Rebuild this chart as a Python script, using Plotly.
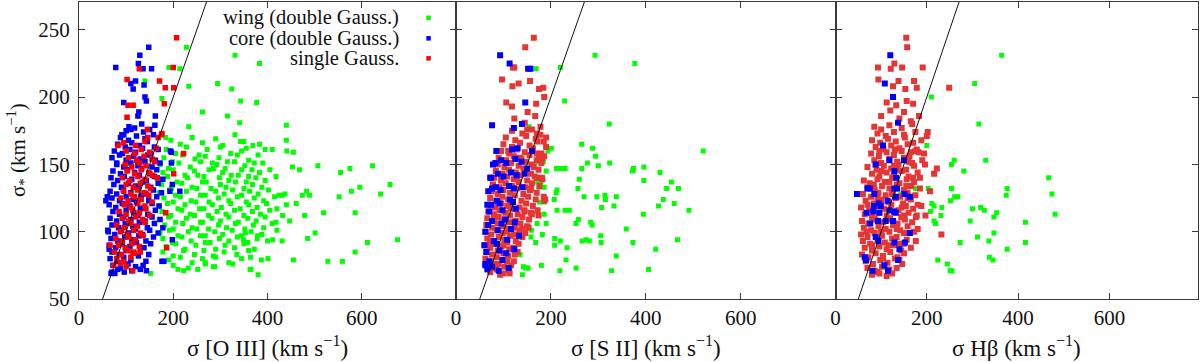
"""Stellar velocity dispersion against gas line widths, three panels."""

import plotly.graph_objects as go

W, H = 1200, 362

# ---------------------------------------------------------------- data
# (sigma_gas, sigma_star) pairs in km/s
OIII_WING = [
    (228, 237), (331, 231), (383, 225), (214, 221), (233, 208), (294, 210), (324, 206), (343, 197), (377, 196), (262, 189),
    (315, 186), (341, 181), (233, 178), (440, 179), (331, 172), (440, 168), (343, 167), (369, 164), (383, 165), (355, 162),
    (410, 161), (441, 160), (455, 159), (453, 148), (468, 146), (507, 149), (555, 144), (575, 147), (623, 149), (660, 135),
    (596, 133), (578, 130), (552, 126), (640, 128), (483, 130), (489, 127), (474, 127), (461, 121), (479, 112), (519, 114),
    (586, 114), (676, 94), (612, 92), (586, 85), (559, 78), (528, 78), (485, 95), (501, 99), (455, 79), (447, 108),
    (437, 128), (431, 127), (431, 93), (411, 94), (401, 80), (387, 79), (380, 68), (365, 72), (364, 81), (379, 97),
    (353, 99), (349, 94), (140, 212), (176, 199), (191, 222), (184, 170), (152, 69), (210, 72), (222, 71), (252, 72),
    (268, 77), (285, 74), (326, 76), (363, 72),
    (195, 168), (215, 165), (240, 170), (262, 166), (290, 169), (305, 164), (350, 167),
    (185, 161), (205, 158), (228, 163), (255, 157), (272, 161), (300, 163), (322, 158), (345, 160), (380, 157), (395, 161),
    (180, 155), (198, 152), (220, 157), (246, 154), (268, 156), (283, 151), (297, 155), (315, 152), (336, 157), (360, 153), (372, 151),
    (172, 150), (190, 147), (212, 151), (236, 148), (258, 152), (276, 146), (292, 150), (310, 147), (330, 152), (352, 149), (367, 146), (390, 151),
    (178, 144), (200, 146), (225, 142), (245, 145), (265, 141), (285, 147), (305, 144), (323, 142), (345, 146), (360, 141), (383, 144), (405, 146),
    (168, 139), (188, 141), (208, 137), (230, 140), (252, 142), (270, 137), (298, 140), (318, 138), (338, 142), (355, 137), (375, 140), (395, 138), (418, 141),
    (175, 135), (196, 132), (218, 136), (240, 133), (262, 137), (280, 132), (300, 135), (312, 133), (332, 137), (350, 132), (368, 135), (388, 133),
    (170, 129), (192, 131), (205, 127), (228, 130), (250, 132), (268, 127), (290, 130), (308, 128), (326, 131), (345, 127), (362, 130), (380, 128), (402, 131), (425, 127),
    (180, 125), (200, 122), (215, 126), (238, 123), (258, 127), (276, 122), (296, 125), (318, 123), (336, 126), (355, 122), (372, 125), (392, 123), (415, 126),
    (168, 119), (188, 121), (210, 117), (225, 120), (248, 122), (265, 117), (283, 120), (302, 118), (322, 121), (342, 117), (360, 120), (378, 118), (398, 121), (420, 117), (440, 120),
    (176, 115), (195, 112), (218, 116), (236, 113), (256, 117), (275, 112), (293, 115), (312, 113), (330, 116), (350, 112), (368, 115), (385, 113), (405, 116), (432, 112),
    (170, 109), (190, 111), (205, 107), (228, 110), (245, 112), (262, 107), (282, 110), (300, 108), (318, 111), (338, 107), (358, 110), (376, 108), (395, 111), (418, 107),
    (182, 105), (200, 102), (220, 106), (240, 103), (258, 107), (275, 102), (296, 105), (313, 103), (332, 106), (352, 102), (370, 105), (392, 103), (410, 106),
    (172, 99), (192, 101), (210, 97), (232, 100), (250, 102), (268, 97), (288, 100), (305, 98), (325, 101), (345, 97), (365, 100), (388, 98), (420, 101),
    (178, 95), (198, 92), (218, 96), (238, 93), (258, 97), (278, 92), (298, 95), (318, 93), (336, 96), (358, 92), (378, 95), (400, 93),
    (185, 89), (205, 91), (225, 87), (248, 90), (268, 92), (290, 87), (310, 90), (330, 88), (350, 91), (372, 87),
    (178, 85), (200, 82), (222, 86), (245, 83), (265, 86), (285, 82), (308, 85), (335, 83), (360, 86),
    (190, 79), (215, 81), (240, 77), (262, 80), (290, 81), (318, 77), (345, 80),
    (200, 75), (232, 73), (268, 76), (288, 74),
]

OIII_CORE = [
    (78, 222), (148, 237), (129, 231), (126, 225), (136, 221), (154, 221), (120, 212), (110, 210), (115, 206), (138, 209),
    (140, 200), (143, 197), (95, 196), (127, 189), (125, 186), (133, 180), (161, 179), (106, 178), (110, 176), (91, 172),
    (95, 172), (80, 151), (57, 123), (60, 126), (61, 101), (64, 87), (68, 69), (76, 69), (143, 71), (198, 94),
    (176, 78), (180, 78), (178, 103), (193, 130), (162, 186), (196, 151), (198, 135), (214, 130), (196, 159), (194, 160),
    (100, 175), (118, 177), (137, 174), (150, 176),
    (88, 170), (105, 168), (122, 171), (140, 169), (158, 172),
    (82, 165), (98, 163), (112, 166), (128, 164), (145, 167), (160, 163),
    (75, 160), (92, 158), (108, 161), (120, 159), (135, 162), (152, 158), (168, 161),
    (70, 155), (86, 157), (100, 153), (116, 156), (130, 154), (146, 157), (162, 153),
    (80, 150), (95, 148), (110, 151), (125, 149), (140, 152), (155, 148), (172, 151),
    (72, 145), (88, 143), (103, 146), (118, 144), (133, 147), (150, 143), (165, 146),
    (68, 140), (82, 138), (96, 141), (112, 139), (128, 142), (143, 138), (160, 141), (178, 139),
    (74, 135), (90, 133), (105, 136), (120, 134), (136, 137), (152, 133), (168, 136),
    (66, 130), (80, 128), (94, 131), (110, 129), (126, 132), (142, 128), (158, 131), (175, 129),
    (70, 125), (86, 123), (100, 126), (115, 124), (132, 127), (148, 123), (165, 126),
    (64, 120), (78, 118), (92, 121), (108, 119), (122, 122), (138, 118), (155, 121), (170, 119),
    (72, 115), (86, 113), (100, 116), (116, 114), (130, 117), (146, 113), (162, 116),
    (66, 110), (80, 108), (95, 111), (110, 109), (125, 112), (140, 108), (155, 111), (172, 109),
    (70, 105), (84, 103), (98, 106), (114, 104), (128, 107), (145, 103), (160, 106),
    (62, 100), (76, 98), (90, 101), (105, 99), (120, 102), (135, 98), (150, 101), (168, 99),
    (68, 95), (82, 93), (97, 96), (112, 94), (127, 97), (142, 93), (158, 96),
    (64, 90), (78, 88), (92, 91), (108, 89), (122, 92), (138, 88), (152, 91),
    (70, 85), (85, 83), (100, 86), (115, 84), (130, 87), (148, 83),
    (66, 80), (80, 78), (95, 81), (110, 79), (126, 82), (142, 78),
    (72, 75), (88, 73), (104, 76), (120, 74), (136, 75),
    (70, 70), (82, 72), (96, 70), (112, 71), (130, 72),
]

OIII_SINGLE = [
    (207, 244), (128, 221), (200, 222), (102, 213), (171, 212), (183, 207), (201, 207), (115, 194), (181, 195), (102, 185),
    (145, 176), (83, 164), (168, 170), (146, 170), (176, 173), (222, 158), (201, 143), (184, 114), (186, 88), (104, 194),
    (115, 85), (130, 85), (175, 172), (164, 162), (166, 140), (66, 90), (114, 71),
    (95, 166), (120, 164), (140, 167),
    (100, 160), (118, 158), (132, 161), (150, 159),
    (105, 155), (122, 153), (138, 156), (155, 154),
    (98, 150), (112, 148), (128, 151), (142, 149), (160, 152),
    (102, 145), (118, 143), (132, 146), (148, 144),
    (92, 140), (108, 138), (125, 141), (140, 139), (156, 142),
    (100, 135), (115, 133), (130, 136), (146, 134),
    (95, 130), (110, 128), (124, 131), (138, 129), (152, 132),
    (88, 125), (104, 123), (118, 126), (132, 124), (148, 127),
    (96, 120), (110, 118), (125, 121), (140, 119), (155, 122),
    (85, 115), (100, 113), (114, 116), (128, 114), (142, 117),
    (92, 110), (106, 108), (120, 111), (135, 109), (150, 112),
    (80, 105), (96, 103), (110, 106), (124, 104), (140, 107),
    (88, 100), (102, 98), (116, 101), (130, 99),
    (78, 95), (92, 93), (106, 96), (120, 94), (136, 97),
    (84, 90), (98, 88), (112, 91), (128, 89),
    (75, 85), (90, 83), (104, 86), (118, 84),
    (80, 80), (95, 78), (110, 81),
    (74, 75), (88, 77), (100, 74),
]

SII_WING = [
    (293, 231), (377, 225), (220, 222), (229, 197), (323, 180), (521, 160), (265, 165), (288, 162), (294, 156), (201, 162),
    (277, 151), (300, 149), (324, 151), (212, 147), (221, 147), (230, 147), (265, 147), (374, 147), (372, 145), (396, 148),
    (430, 144), (396, 138), (454, 137), (444, 132), (469, 132), (260, 139), (257, 132), (213, 131), (211, 129), (270, 126),
    (297, 126), (314, 127), (315, 124), (338, 126), (437, 124), (427, 119), (460, 121), (491, 116), (307, 118), (333, 119),
    (395, 113), (239, 116), (230, 116), (213, 116), (207, 124), (258, 109), (253, 106), (284, 107), (287, 105), (359, 102),
    (190, 106), (182, 98), (208, 95), (208, 90), (220, 93), (234, 88), (266, 93), (274, 94), (281, 93), (305, 97),
    (306, 92), (373, 92), (421, 87), (467, 94), (338, 82), (232, 79), (180, 75), (219, 71), (253, 73), (328, 71),
    (406, 72), (168, 92), (169, 221), (154, 178), (172, 152), (184, 152), (172, 137), (179, 137), (175, 133), (186, 133),
    (176, 122), (186, 122), (173, 114), (186, 113), (171, 106), (159, 101), (158, 96), (135, 83), (142, 74),
    (147, 73), (152, 73), (140, 68), (194, 160), (190, 145),
]

SII_CORE = [
    (93, 231), (113, 225), (157, 221), (152, 221), (146, 196), (76, 179), (139, 180), (122, 177), (130, 162), (83, 151),
    (74, 140), (76, 132), (74, 120), (62, 75), (66, 72), (90, 71), (111, 73), (123, 87), (133, 97), (150, 147), (160, 160),
    (85, 160), (118, 161),
    (95, 153), (125, 154),
    (78, 150), (106, 151), (138, 152),
    (88, 143), (116, 144), (145, 143),
    (72, 140), (100, 141), (128, 142),
    (84, 133), (112, 134), (140, 133),
    (68, 130), (94, 131), (122, 132),
    (86, 123), (114, 124),
    (66, 120), (92, 121), (120, 122),
    (70, 115), (98, 116), (126, 117),
    (76, 108), (104, 109),
    (68, 105), (96, 106), (124, 107),
    (62, 100), (88, 101), (116, 102),
    (80, 93), (108, 94),
    (60, 90), (86, 91),
    (64, 85), (92, 86), (106, 84),
    (70, 78), (98, 79),
    (62, 76), (76, 74),
]

SII_SINGLE = [
    (164, 244), (146, 237), (123, 222), (120, 222), (97, 213), (119, 208), (132, 210), (156, 212), (184, 207), (175, 206),
    (106, 196), (118, 193), (169, 195), (186, 200), (151, 189), (167, 186), (123, 184), (145, 181), (171, 173), (160, 113),
    (174, 112), (153, 103), (186, 123), (181, 140), (182, 155), (170, 158), (188, 124), (113, 69), (93, 68), (178, 178),
    (190, 170), (150, 176),
    (118, 175), (140, 173), (160, 176), (178, 172),
    (105, 170), (125, 168), (148, 171), (168, 169), (185, 167),
    (100, 165), (118, 163), (135, 166), (155, 164), (172, 167), (190, 163),
    (95, 160), (112, 158), (128, 161), (145, 159), (162, 162), (180, 158),
    (90, 155), (106, 153), (122, 156), (138, 154), (155, 157), (170, 153), (186, 156),
    (88, 150), (102, 148), (116, 151), (132, 149), (148, 152), (164, 148), (180, 151),
    (84, 145), (98, 143), (112, 146), (126, 144), (142, 147), (158, 143), (174, 146),
    (80, 140), (95, 138), (108, 141), (122, 139), (136, 142), (150, 138), (166, 141), (182, 139),
    (78, 135), (92, 133), (105, 136), (118, 134), (132, 137), (146, 133), (160, 136), (176, 134),
    (75, 130), (88, 128), (100, 131), (114, 129), (128, 132), (142, 128), (156, 131), (170, 129),
    (72, 125), (85, 123), (98, 126), (110, 124), (124, 127), (138, 123), (152, 126), (168, 124), (185, 126),
    (70, 120), (82, 118), (95, 121), (108, 119), (120, 122), (134, 118), (148, 121), (162, 119),
    (68, 115), (80, 113), (92, 116), (104, 114), (116, 117), (130, 113), (144, 116), (158, 114), (172, 116),
    (66, 110), (78, 108), (90, 111), (102, 109), (114, 112), (126, 108), (140, 111), (154, 109),
    (64, 105), (76, 103), (88, 106), (100, 104), (112, 107), (124, 103), (136, 106), (150, 104),
    (62, 100), (74, 98), (86, 101), (98, 99), (110, 102), (122, 98), (134, 101), (146, 99),
    (66, 95), (78, 93), (90, 96), (102, 94), (114, 97), (126, 93), (140, 96),
    (60, 90), (72, 88), (84, 91), (96, 89), (108, 92), (120, 88), (132, 91),
    (64, 85), (76, 83), (88, 86), (100, 84), (112, 87), (124, 83),
    (62, 80), (74, 78), (86, 81), (98, 79), (110, 82), (122, 78),
    (66, 75), (78, 73), (90, 76), (102, 74), (116, 75),
    (72, 70), (86, 72), (100, 69), (112, 71),
    (110, 160), (135, 155), (160, 150), (95, 142), (128, 140), (158, 132), (88, 122), (116, 120), (145, 115),
    (80, 110), (108, 100), (140, 102), (72, 92), (100, 90), (130, 85), (80, 76), (108, 78), (170, 140), (175, 155),
]

HB_WING = [
    (364, 231), (305, 210), (210, 200), (314, 180), (200, 164), (260, 153), (254, 150), (281, 145), (329, 153), (467, 140),
    (474, 128), (481, 113), (376, 132), (374, 127), (203, 132), (254, 132), (261, 126), (268, 126), (252, 123), (211, 121),
    (216, 119), (233, 118), (208, 115), (300, 117), (318, 118), (326, 116), (353, 114), (347, 111), (295, 108),
    (216, 108), (219, 106), (416, 107), (347, 99), (311, 96), (273, 92), (336, 93), (416, 92), (376, 87), (337, 81),
    (345, 79), (224, 79), (245, 76), (251, 71), (255, 71), (175, 132), (143, 128), (231, 112),
]

HB_CORE = [
    (120, 231), (108, 210), (126, 200), (137, 181), (104, 164), (88, 150), (118, 153), (150, 153), (129, 145), (133, 140),
    (70, 132), (75, 132), (47, 128), (85, 128), (129, 132), (135, 132), (132, 126), (151, 128), (163, 126), (114, 123),
    (95, 121), (84, 119), (99, 119), (68, 114), (83, 115), (96, 114), (118, 116), (128, 115), (132, 114), (93, 108),
    (110, 108), (126, 108), (76, 106), (163, 99), (88, 96), (94, 93), (129, 92), (152, 92), (140, 87), (64, 81),
    (67, 79), (137, 79), (107, 75), (81, 71), (115, 71),
]

HB_SINGLE = [
    (155, 244), (157, 237), (93, 222), (121, 221), (146, 222), (129, 225), (191, 222), (94, 213), (138, 212), (172, 212),
    (126, 208), (153, 206), (178, 207), (112, 196), (133, 194), (156, 197), (170, 195), (150, 189), (183, 186), (202, 174),
    (232, 98), (222, 147), (216, 143), (249, 207), (207, 130), (197, 112), (194, 158), (196, 150), (176, 93), (176, 111),
    (120, 190), (140, 184), (165, 182), (100, 186),
    (85, 178), (100, 176), (118, 179), (145, 177), (168, 180),
    (92, 173), (110, 171), (128, 174), (150, 172), (175, 174), (200, 171),
    (80, 168), (98, 166), (115, 169), (132, 167), (152, 170), (170, 166), (188, 168),
    (88, 163), (105, 161), (122, 164), (140, 162), (158, 165), (178, 161),
    (78, 158), (95, 156), (112, 159), (128, 157), (145, 160), (162, 156), (182, 159),
    (85, 153), (100, 151), (118, 154), (135, 152), (150, 155), (168, 151), (190, 153),
    (70, 148), (90, 146), (106, 149), (122, 147), (138, 150), (155, 146), (172, 149),
    (80, 143), (96, 141), (112, 144), (128, 142), (145, 145), (160, 141), (180, 144),
    (62, 138), (75, 136), (92, 139), (108, 137), (124, 140), (140, 136), (156, 139), (172, 137),
    (70, 133), (86, 131), (102, 134), (118, 132), (134, 135), (150, 131), (166, 134), (185, 132),
    (60, 128), (78, 126), (94, 129), (110, 127), (126, 130), (142, 126), (158, 129), (175, 127),
    (66, 123), (84, 121), (100, 124), (116, 122), (132, 125), (148, 121), (165, 124),
    (56, 118), (74, 116), (90, 119), (106, 117), (122, 120), (138, 116), (154, 119), (170, 117), (188, 119),
    (64, 113), (80, 111), (96, 114), (112, 112), (128, 115), (144, 111), (160, 114), (178, 112),
    (58, 108), (72, 106), (88, 109), (104, 107), (120, 110), (136, 106), (152, 109), (168, 107),
    (62, 103), (78, 101), (94, 104), (110, 102), (126, 105), (142, 101), (158, 104), (180, 102),
    (56, 98), (70, 96), (86, 99), (102, 97), (118, 100), (134, 96), (150, 99),
    (60, 93), (76, 91), (92, 94), (108, 92), (124, 95), (140, 91), (156, 94),
    (64, 88), (80, 86), (96, 89), (112, 87), (128, 90), (144, 86),
    (58, 83), (72, 81), (88, 84), (104, 82), (120, 85), (136, 81), (150, 84),
    (66, 78), (82, 76), (98, 79), (114, 77), (130, 80), (146, 76),
    (70, 73), (86, 71), (102, 74), (118, 72), (134, 73),
    (80, 68), (96, 69), (112, 67),
    (96, 160), (130, 161), (165, 159), (88, 150), (128, 149), (160, 152), (100, 145), (135, 146), (170, 140),
    (84, 135), (118, 137), (155, 134), (92, 125), (124, 128), (158, 125), (70, 120), (100, 121), (145, 118),
    (84, 110), (116, 109), (150, 112), (68, 100), (100, 100), (134, 102), (80, 90), (116, 90), (150, 91),
    (68, 80), (104, 80), (140, 79), (92, 70), (124, 69), (175, 160), (185, 140), (180, 120), (172, 100), (165, 88),
]

ONE_TO_ONE = [0, 800]
X_TICKS = [0, 200, 400, 600]
Y_TICKS = [50, 100, 150, 200, 250]
X_TITLES = [
    "σ [O III] (km s<sup>−1</sup>)",
    "σ [S II] (km s<sup>−1</sup>)",
    "σ Hβ (km s<sup>−1</sup>)",
]
LEGEND_LABELS = ["wing (double Gauss.)", "core (double Gauss.)", "single Gauss."]

# ---------------------------------------------------------------- style
GREEN, BLUE, RED, RED_SOFT = "#00ff00", "#0000ff", "#ff0000", "#e53535"
AXIS_COLOR = "#3a3a3a"
FONT = "Liberation Serif"

# panel boxes in pixels (left, right), shared top/bottom
PANELS_PX = [(79, 456), (456, 835.5), (835.5, 1198)]
X_RANGES = [[0, 800], [0, 800], [0, 794]]
TOP_PX, BOTTOM_PX = 1.5, 299


def fx(px):
    return px / W


def fy(py):
    return 1 - py / H


def split(pairs):
    return [p[0] for p in pairs], [p[1] for p in pairs]


fig = go.Figure()

# draw order per panel: wing first, then core / single as in the original
panel_series = [
    [(OIII_WING, GREEN, 5), (OIII_CORE, BLUE, 5.5), (OIII_SINGLE, RED, 5.5)],
    [(SII_WING, GREEN, 5), (SII_SINGLE, RED_SOFT, 6), (SII_CORE, BLUE, 6)],
    [(HB_WING, GREEN, 5), (HB_SINGLE, RED_SOFT, 6), (HB_CORE, BLUE, 6)],
]

for i, series in enumerate(panel_series):
    suffix = "" if i == 0 else str(i + 1)
    for pairs, color, size in series:
        xs, ys = split(pairs)
        fig.add_trace(go.Scatter(
            x=xs, y=ys, mode="markers",
            marker=dict(symbol="square", size=size, color=color, line=dict(width=0)),
            xaxis="x" + suffix, yaxis="y" + suffix, showlegend=False, hoverinfo="x+y",
        ))
    fig.add_trace(go.Scatter(
        x=ONE_TO_ONE, y=ONE_TO_ONE, mode="lines",
        line=dict(color="#111111", width=1),
        xaxis="x" + suffix, yaxis="y" + suffix, showlegend=False, hoverinfo="skip",
    ))

axis_common = dict(
    ticks="inside", ticklen=6, tickwidth=1, tickcolor=AXIS_COLOR,
    showline=True, linecolor=AXIS_COLOR, linewidth=1, mirror="ticks",
    showgrid=False, zeroline=False, automargin=False,
    tickfont=dict(family=FONT, size=21, color="#111111"),
)

layout_axes = {}
for i, (left, right) in enumerate(PANELS_PX):
    suffix = "" if i == 0 else str(i + 1)
    layout_axes["xaxis" + suffix] = dict(
        axis_common, domain=[fx(left), fx(right)], range=X_RANGES[i],
        tickvals=X_TICKS, anchor="y" + suffix,
    )
    layout_axes["yaxis" + suffix] = dict(
        axis_common, domain=[fy(BOTTOM_PX), fy(TOP_PX)], range=[50, 271],
        tickvals=Y_TICKS, anchor="x" + suffix, showticklabels=(i == 0),
        ticklabelstandoff=4,
    )

annotations = []
for i, (left, right) in enumerate(PANELS_PX):
    annotations.append(dict(
        text=X_TITLES[i], x=fx((left + right) / 2), y=fy(346), xref="paper", yref="paper",
        xanchor="center", yanchor="middle", showarrow=False,
        font=dict(family=FONT, size=23, color="#111111"),
    ))
annotations.append(dict(
    text="σ<sub>*</sub> (km s<sup>−1</sup>)", x=fx(18), y=fy(150), xref="paper", yref="paper",
    xanchor="center", yanchor="middle", textangle=-90, showarrow=False,
    font=dict(family=FONT, size=21, color="#111111"),
))

shapes = []
legend_rows_px = [17.7, 38.3, 58.3]
for label, row, color in zip(LEGEND_LABELS, legend_rows_px, [GREEN, BLUE, RED]):
    annotations.append(dict(
        text=label, x=fx(401), y=fy(row), xref="paper", yref="paper",
        xanchor="right", yanchor="middle", showarrow=False,
        font=dict(family=FONT, size=20.5, color="#111111"),
    ))
    shapes.append(dict(
        type="rect", xref="paper", yref="paper",
        x0=fx(426.3), x1=fx(430.8), y0=fy(row + 2.3), y1=fy(row - 2.2),
        fillcolor=color, line=dict(width=0),
    ))

fig.update_layout(
    width=W, height=H,
    margin=dict(l=0, r=0, t=0, b=0),
    paper_bgcolor="white", plot_bgcolor="white",
    font=dict(family=FONT, size=21, color="#111111"),
    annotations=annotations, shapes=shapes,
    **layout_axes,
)

# the page's default 8px body margin would shift the whole figure
fig.write_html(
    "out.html",
    config={"displayModeBar": False},
    post_script="document.body.style.margin = '0';",
)
